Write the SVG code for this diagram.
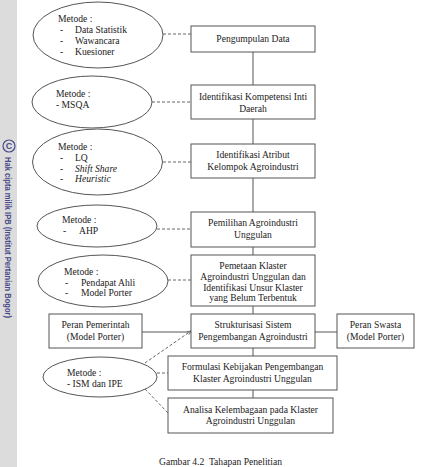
<svg xmlns="http://www.w3.org/2000/svg" width="429" height="467" viewBox="0 0 429 467">
<style>
.box{fill:#fff;stroke:#555;stroke-width:1}
.ell{fill:#fff;stroke:#555;stroke-width:1}
.t{font-family:"Liberation Serif","Times New Roman",serif;font-size:9.6px;fill:#222}
.c{text-anchor:middle}
.i{font-style:italic}
.solid{stroke:#555;stroke-width:1;fill:none}
.dash{stroke:#555;stroke-width:0.9;stroke-dasharray:3,2;fill:none}
.wm{font-family:"Liberation Sans",Arial,sans-serif;font-weight:bold;font-size:9px;fill:#4a4a88}
</style>
<defs>
<marker id="ah" viewBox="0 0 6 6" refX="5.5" refY="3" markerWidth="5" markerHeight="5" orient="auto">
<path d="M0,0.5 L6,3 L0,5.5" fill="none" stroke="#555" stroke-width="0.8"/>
</marker>
</defs>
<rect width="429" height="467" fill="#fff"/>
<g id="watermark">
<rect x="0" y="0" width="17" height="467" fill="#dcdcdc"/>
<circle cx="9" cy="146" r="6" fill="none" stroke="#4a4a88" stroke-width="1.2"/>
<text class="wm" x="9" y="149" text-anchor="middle" font-size="8">C</text>
<text class="wm" transform="translate(5,157) rotate(90)" x="0" y="0" textLength="161" lengthAdjust="spacingAndGlyphs">Hak cipta milik IPB (Institut Pertanian Bogor)</text>
</g>
<g id="connectors">
<line class="solid" x1="253" y1="52" x2="253" y2="85"/>
<line class="solid" x1="253" y1="119" x2="253" y2="144"/>
<line class="solid" x1="253" y1="178" x2="253" y2="212"/>
<line class="solid" x1="253" y1="247" x2="253" y2="255"/>
<line class="solid" x1="253" y1="306" x2="253" y2="314"/>
<line class="solid" x1="253" y1="348" x2="253" y2="356"/>
<line class="solid" x1="253" y1="390" x2="253" y2="398"/>
<line class="solid" x1="142" y1="332" x2="191" y2="332"/>
<line class="solid" x1="315" y1="332" x2="337" y2="332"/>
<line class="dash" x1="163" y1="34" x2="191" y2="34"/>
<line class="dash" x1="152" y1="102" x2="191" y2="102"/>
<line class="dash" x1="163" y1="162" x2="191" y2="162"/>
<line class="dash" x1="157" y1="229" x2="191" y2="229"/>
<line class="dash" x1="168" y1="280" x2="191" y2="280"/>
<line class="dash" x1="145" y1="363" x2="191" y2="331" marker-end="url(#ah)"/>
<line class="dash" x1="157" y1="373" x2="168" y2="373"/>
<line class="dash" x1="145" y1="389" x2="168" y2="413"/>
</g>
<g id="m1">
<ellipse class="ell" cx="98" cy="35" rx="65" ry="33"/>
<text class="t" x="58" y="22">Metode :</text>
<text class="t" x="60" y="33">-</text><text class="t" x="75" y="33">Data Statistik</text>
<text class="t" x="60" y="44">-</text><text class="t" x="75" y="44">Wawancara</text>
<text class="t" x="60" y="55">-</text><text class="t" x="75" y="55">Kuesioner</text>
</g>
<g id="m2">
<ellipse class="ell" cx="92" cy="102" rx="60" ry="26"/>
<text class="t" x="56" y="97">Metode :</text>
<text class="t" x="56" y="108">- MSQA</text>
</g>
<g id="m3">
<ellipse class="ell" cx="97.5" cy="162" rx="65" ry="33"/>
<text class="t" x="58" y="150">Metode :</text>
<text class="t" x="60" y="161">-</text><text class="t" x="75" y="161">LQ</text>
<text class="t" x="60" y="172">-</text><text class="t i" x="75" y="172">Shift Share</text>
<text class="t" x="60" y="182">-</text><text class="t i" x="75" y="182">Heuristic</text>
</g>
<g id="m4">
<ellipse class="ell" cx="97" cy="226" rx="60" ry="21"/>
<text class="t" x="62" y="223">Metode :</text>
<text class="t" x="63" y="234">-</text><text class="t" x="79" y="234">AHP</text>
</g>
<g id="m5">
<ellipse class="ell" cx="103" cy="281" rx="65" ry="26"/>
<text class="t" x="64" y="275">Metode :</text>
<text class="t" x="65" y="286">-</text><text class="t" x="81" y="286">Pendapat Ahli</text>
<text class="t" x="65" y="296">-</text><text class="t" x="81" y="296">Model Porter</text>
</g>
<g id="m6">
<ellipse class="ell" cx="100" cy="377" rx="57" ry="20"/>
<text class="t" x="67" y="376">Metode :</text>
<text class="t" x="67" y="387">- ISM dan IPE</text>
</g>
<g id="b1">
<rect class="box" x="191" y="26" width="124" height="26"/>
<text class="t c" x="253" y="42">Pengumpulan Data</text>
</g>
<g id="b2">
<rect class="box" x="191" y="85" width="124" height="34"/>
<text class="t c" x="253" y="100">Identifikasi Kompetensi Inti</text>
<text class="t c" x="253" y="112">Daerah</text>
</g>
<g id="b3">
<rect class="box" x="191" y="144" width="124" height="34"/>
<text class="t c" x="253" y="158">Identifikasi Atribut</text>
<text class="t c" x="253" y="170">Kelompok Agroindustri</text>
</g>
<g id="b4">
<rect class="box" x="191" y="212" width="124" height="35"/>
<text class="t c" x="253" y="226">Pemilihan Agroindustri</text>
<text class="t c" x="253" y="238">Unggulan</text>
</g>
<g id="b5">
<rect class="box" x="191" y="255" width="124" height="51"/>
<text class="t c" x="253" y="269">Pemetaan Klaster</text>
<text class="t c" x="253" y="280">Agroindustri Unggulan dan</text>
<text class="t c" x="253" y="291">Identifikasi Unsur Klaster</text>
<text class="t c" x="253" y="301">yang Belum Terbentuk</text>
</g>
<g id="b6">
<rect class="box" x="191" y="314" width="124" height="34"/>
<text class="t c" x="253" y="328">Strukturisasi Sistem</text>
<text class="t c" x="253" y="340">Pengembangan Agroindustri</text>
</g>
<g id="pemerintah">
<rect class="box" x="49" y="314" width="93" height="34"/>
<text class="t c" x="95.5" y="328">Peran Pemerintah</text>
<text class="t c" x="95.5" y="340">(Model Porter)</text>
</g>
<g id="swasta">
<rect class="box" x="337" y="314" width="77" height="34"/>
<text class="t c" x="375.5" y="328">Peran Swasta</text>
<text class="t c" x="375.5" y="340">(Model Porter)</text>
</g>
<g id="b7">
<rect class="box" x="168" y="356" width="169" height="34"/>
<text class="t c" x="252.5" y="370">Formulasi Kebijakan Pengembangan</text>
<text class="t c" x="252.5" y="382">Klaster Agroindustri Unggulan</text>
</g>
<g id="b8">
<rect class="box" x="168" y="398" width="165" height="35"/>
<text class="t c" x="250.5" y="413">Analisa Kelembagaan pada Klaster</text>
<text class="t c" x="250.5" y="424">Agroindustri Unggulan</text>
</g>
<text class="t c" x="220.5" y="465" font-size="12px" xml:space="preserve">Gambar 4.2  Tahapan Penelitian</text>
</svg>
